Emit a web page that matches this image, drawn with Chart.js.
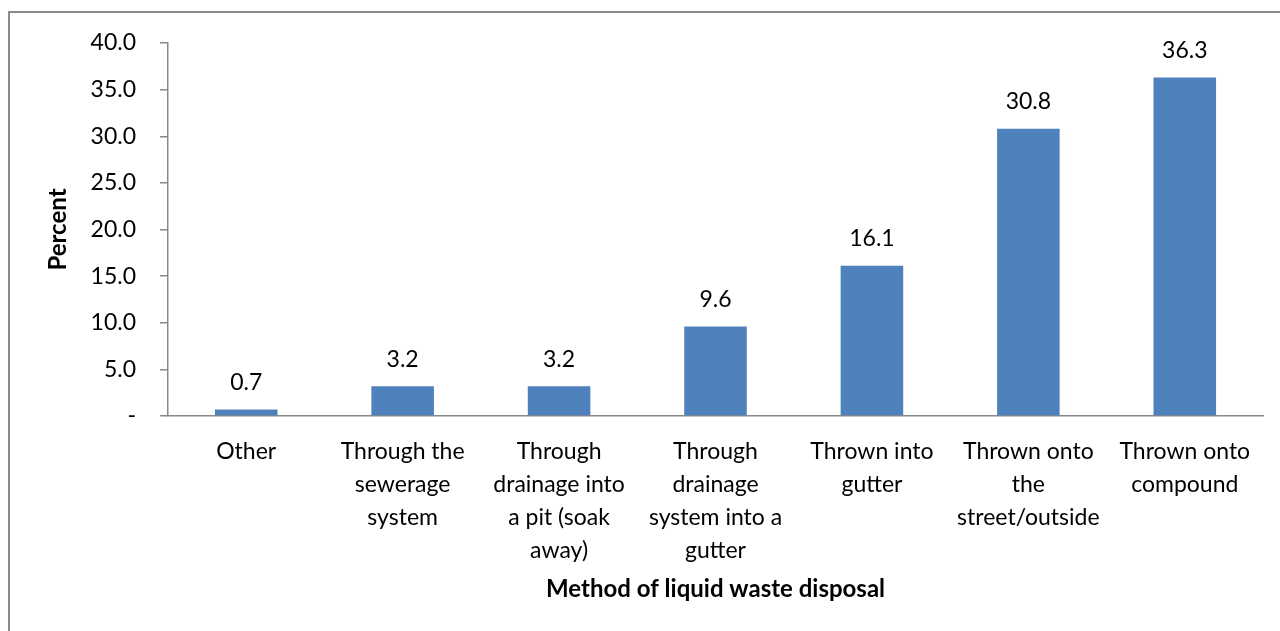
<!DOCTYPE html>
<html>
<head>
<meta charset="utf-8">
<script src="https://cdn.jsdelivr.net/npm/chart.js@4"></script>
<style>
html,body{margin:0;padding:0;background:#fff;}
#wrap{position:absolute;left:0;top:0;width:1280px;height:631px;}
</style>
</head>
<body>
<div id="wrap"><canvas id="c" width="1280" height="631"></canvas></div>
<script>
const categories = [
  "Other",
  ["Through the", "sewerage", "system"],
  ["Through", "drainage into", "a pit (soak", "away)"],
  ["Through", "drainage", "system into a", "gutter"],
  ["Thrown into", "gutter"],
  ["Thrown onto", "the", "street/outside"],
  ["Thrown onto", "compound"]
];
const percentValues = [0.7, 3.2, 3.2, 9.6, 16.1, 30.8, 36.3];
const yTicks = [0, 5, 10, 15, 20, 25, 30, 35, 40];

const FONT = "Lato, 'Open Sans', sans-serif";
const AXIS = '#898989';

const frame = {
  id: 'frame',
  beforeDraw(chart) {
    const ctx = chart.ctx;
    ctx.save();
    ctx.fillStyle = '#fff';
    ctx.fillRect(0, 0, chart.width, chart.height);
    ctx.strokeStyle = '#8a8a8a';
    ctx.lineWidth = 2;
    ctx.strokeRect(9, 12, 1300, 700);
    ctx.restore();
  }
};

const dataLabels = {
  id: 'dataLabels',
  afterDatasetsDraw(chart) {
    const ctx = chart.ctx;
    const meta = chart.getDatasetMeta(0);
    ctx.save();
    ctx.font = "23px " + FONT;
    ctx.fillStyle = '#000';
    ctx.textAlign = 'center';
    ctx.textBaseline = 'middle';
    meta.data.forEach((bar, i) => {
      ctx.fillText(percentValues[i].toFixed(1), bar.x, bar.y - 27);
    });
    ctx.restore();
  }
};

new Chart(document.getElementById('c'), {
  type: 'bar',
  data: {
    labels: categories,
    datasets: [{
      data: percentValues,
      backgroundColor: '#4F81BD',
      borderWidth: 0,
      barPercentage: 0.4,
      categoryPercentage: 1.0
    }]
  },
  options: {
    responsive: false,
    animation: false,
    devicePixelRatio: 1,
    layout: { padding: { left: 0, right: 17, top: 43, bottom: 0 } },
    plugins: { legend: { display: false }, tooltip: { enabled: false } },
    scales: {
      x: {
        afterFit(s) { s.height = 215; },
        grid: { display: true, drawOnChartArea: false, drawTicks: false },
        border: { display: true, color: AXIS, width: 1.5 },
        ticks: {
          autoSkip: false, maxRotation: 0, minRotation: 0,
          color: '#000', padding: 19,
          font: { family: FONT, size: 23, lineHeight: 1.435 }
        },
        title: {
          display: true, text: 'Method of liquid waste disposal', color: '#000',
          font: { family: FONT, size: 24, weight: 'bold', lineHeight: 1.2 },
          padding: { top: 0, bottom: 27 }
        }
      },
      y: {
        min: 0, max: 40,
        afterFit(s) { s.width = 168; },
        afterBuildTicks(s) { s.ticks = yTicks.map(v => ({ value: v })); },
        grid: { display: true, drawOnChartArea: false, drawTicks: true, tickLength: 8, color: AXIS, lineWidth: 1.5 },
        border: { display: true, color: AXIS, width: 1.5 },
        ticks: {
          color: '#000', padding: 24,
          font: { family: FONT, size: 23 },
          callback: (v) => v === 0 ? '-' : Number(v).toFixed(1)
        },
        title: {
          display: true, text: 'Percent', color: '#000',
          font: { family: FONT, size: 24, weight: 'bold', lineHeight: 1.2 },
          padding: { top: 44, bottom: 0 }
        }
      }
    }
  },
  plugins: [frame, dataLabels]
});
</script>
</body>
</html>
